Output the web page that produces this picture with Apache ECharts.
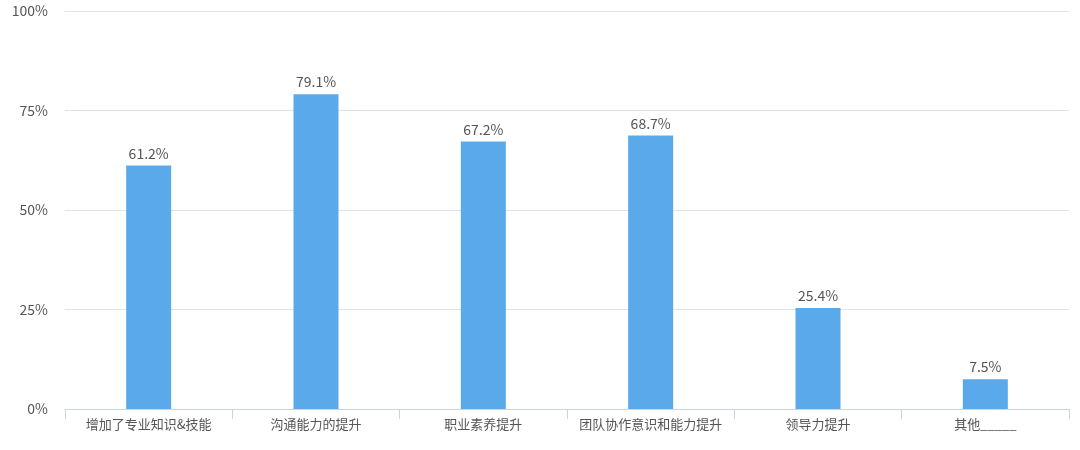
<!DOCTYPE html>
<html>
<head>
<meta charset="utf-8">
<script src="https://cdn.jsdelivr.net/npm/echarts@6/dist/echarts.min.js"></script>
<style>
  html, body { margin: 0; padding: 0; background: #fff; }
  #chart { width: 1080px; height: 450px; }
</style>
</head>
<body>
<div id="chart"></div>
<script>
// 数据
const categories = ["增加了专业知识&技能", "沟通能力的提升", "职业素养提升", "团队协作意识和能力提升", "领导力提升", "其他_____"];
const percents = [61.2, 79.1, 67.2, 68.7, 25.4, 7.5];
const yTicks = [0, 25, 50, 75, 100];

const chart = echarts.init(document.getElementById("chart"));
const font = "'Noto Sans CJK SC', 'Noto Sans', sans-serif";

const option = {
  animation: false,
  textStyle: { fontFamily: font },
  grid: { left: 65, right: 11, top: 11, bottom: 41, containLabel: false },
  xAxis: {
    type: "category",
    data: categories,
    axisLine: { lineStyle: { color: "#c9d5e3", width: 1 } },
    axisTick: { show: true, length: 10, lineStyle: { color: "#c9d5e3" } },
    axisLabel: { color: "#555", fontSize: 13, margin: 9, fontFamily: font, interval: 0 }
  },
  yAxis: {
    type: "value",
    min: yTicks[0],
    max: yTicks[yTicks.length - 1],
    interval: 25,
    axisLine: { show: false },
    axisTick: { show: false },
    axisLabel: { color: "#555", fontSize: 14, margin: 17, fontFamily: font, formatter: "{value}%" },
    splitLine: { lineStyle: { color: "#e0e4ea", width: 1 } }
  },
  series: [{
    type: "bar",
    data: percents,
    barWidth: 45,
    itemStyle: { color: "#5aaaeb" },
    label: {
      show: true,
      position: "top",
      distance: 5,
      color: "#555",
      fontSize: 14,
      fontFamily: font,
      formatter: (p) => p.value.toFixed(1) + "%"
    }
  }]
};

chart.setOption(option);
</script>
</body>
</html>
